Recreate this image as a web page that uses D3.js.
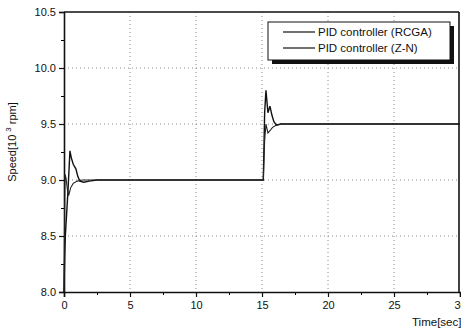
<!DOCTYPE html>
<html>
<head>
<meta charset="utf-8">
<script src="https://cdn.jsdelivr.net/npm/d3@7"></script>
<style>
  body { margin: 0; background: #fff; overflow: hidden; }
  svg { display: block; font-family: "Liberation Sans", Arial, sans-serif; }
</style>
</head>
<body>
<div id="chart"></div>
<script>
// time [s] and speed [10^3 rpm]
const rcgaTime = [0, 0.04, 0.08, 0.15, 0.25, 0.35, 0.5, 0.7, 1.0, 1.4, 2, 15, 15.1, 15.2, 15.3, 15.45, 15.6, 15.8, 16.1, 16.5, 17, 30];
const rcgaSpeed = [8.0, 8.6, 9.05, 9.02, 8.92, 8.86, 8.93, 8.97, 8.99, 9.0, 9.0, 9.0, 9.0, 9.35, 9.5, 9.42, 9.44, 9.47, 9.49, 9.5, 9.5, 9.5];

const znTime = [0, 0.05, 0.1, 0.3, 0.45, 0.55, 0.7, 0.9, 1.05, 1.2, 1.5, 1.9, 2.5, 15, 15.1, 15.2, 15.3, 15.45, 15.6, 15.75, 15.9, 16.1, 16.4, 30];
const znSpeed = [8.0, 8.3, 8.5, 8.9, 9.26, 9.2, 9.14, 9.1, 9.03, 8.99, 8.98, 8.99, 9.0, 9.0, 9.0, 9.6, 9.8, 9.6, 9.66, 9.58, 9.52, 9.49, 9.5, 9.5];

const xTicks = [0, 5, 10, 15, 20, 25, 30];
const yTicks = [8.0, 8.5, 9.0, 9.5, 10.0, 10.5];
const legendLabels = ['PID controller (RCGA)', 'PID controller (Z-N)'];

const W = 461, H = 331,
    margin = { top: 12, right: 2, bottom: 39, left: 64 },
    width = W - margin.left - margin.right,
    height = H - margin.top - margin.bottom;

const svg = d3.select('#chart')
    .append('svg')
        .attr('width', W)
        .attr('height', H)
    .append('g')
        .attr('transform', `translate(${margin.left}, ${margin.top})`);

const x = d3.scaleLinear().domain([0, 30]).range([0, 396]);
const y = d3.scaleLinear().domain([8, 10.5]).range([height, 0]);

// dotted grid
svg.append('g')
    .selectAll('line')
    .data(xTicks.slice(1, -1))
    .join('line')
        .attr('x1', d => x(d)).attr('x2', d => x(d))
        .attr('y1', 0).attr('y2', height)
        .attr('stroke', '#888')
        .attr('stroke-dasharray', '1,3');

svg.append('g')
    .selectAll('line')
    .data(yTicks.slice(1, -1))
    .join('line')
        .attr('x1', 0).attr('x2', width)
        .attr('y1', d => y(d)).attr('y2', d => y(d))
        .attr('stroke', '#888')
        .attr('stroke-dasharray', '1,3');

// minor ticks
svg.append('g')
    .attr('transform', `translate(0, ${height})`)
    .call(d3.axisBottom(x).tickValues(d3.range(2.5, 30, 5)).tickSize(3).tickFormat(''))
    .call(g => g.select('.domain').remove());

svg.append('g')
    .call(d3.axisLeft(y).tickValues(d3.range(8.25, 10.5, 0.5)).tickSize(3).tickFormat(''))
    .call(g => g.select('.domain').remove());

// major axes
const xAxis = svg.append('g')
    .attr('transform', `translate(0, ${height})`)
    .call(d3.axisBottom(x).tickValues(xTicks).tickSize(5).tickPadding(4).tickFormat(d3.format('d')));

const yAxis = svg.append('g')
    .call(d3.axisLeft(y).tickValues(yTicks).tickSize(5).tickPadding(3).tickFormat(d3.format('.1f')));

[xAxis, yAxis].forEach(g => {
    g.selectAll('text').attr('font-size', 11).attr('fill', '#111')
        .attr('font-family', '"Liberation Sans", Arial, sans-serif');
    g.selectAll('line').attr('stroke', '#111').attr('stroke-width', 1.2);
    g.select('.domain').attr('stroke', '#111').attr('stroke-width', 1.6);
});

// frame top / right
svg.append('line')
    .attr('x1', 0).attr('x2', width).attr('y1', 0).attr('y2', 0)
    .attr('stroke', '#111').attr('stroke-width', 1.6);
svg.append('line')
    .attr('x1', x(30) - 1).attr('x2', x(30) - 1).attr('y1', 0).attr('y2', height)
    .attr('stroke', '#111').attr('stroke-width', 1.6);

// curves
const line = d3.line()
    .x(d => x(d[0]))
    .y(d => y(d[1]));

svg.append('path')
    .datum(d3.zip(znTime, znSpeed))
    .attr('fill', 'none')
    .attr('stroke', '#111')
    .attr('stroke-width', 1.4)
    .attr('d', line);

svg.append('path')
    .datum(d3.zip(rcgaTime, rcgaSpeed))
    .attr('fill', 'none')
    .attr('stroke', '#222')
    .attr('stroke-width', 1.1)
    .attr('d', line);

// legend
const legend = svg.append('g')
    .attr('transform', `translate(${268 - margin.left}, ${22 - margin.top})`);

legend.append('rect')
    .attr('x', 4).attr('y', 4)
    .attr('width', 182).attr('height', 38)
    .attr('fill', '#111');
legend.append('rect')
    .attr('width', 182).attr('height', 38)
    .attr('fill', '#fff')
    .attr('stroke', '#111')
    .attr('stroke-width', 1);

legendLabels.forEach((label, i) => {
    const ly = 10 + i * 16;
    legend.append('line')
        .attr('x1', 15).attr('x2', 47)
        .attr('y1', ly).attr('y2', ly)
        .attr('stroke', '#111')
        .attr('stroke-width', 1.2);
    legend.append('text')
        .attr('x', 50).attr('y', ly + 4)
        .attr('font-size', 11.5)
        .attr('fill', '#111')
        .text(label);
});

// axis titles
svg.append('text')
    .attr('x', 412 - margin.left)
    .attr('y', 326 - margin.top)
    .attr('font-size', 11.5)
    .attr('fill', '#111')
    .text('Time[sec]');

const yTitle = svg.append('text')
    .attr('transform', `translate(${16 - margin.left}, ${142 - margin.top}) rotate(-90)`)
    .attr('text-anchor', 'middle')
    .attr('font-size', 11)
    .attr('fill', '#111');
yTitle.append('tspan').text('Speed[10 ');
yTitle.append('tspan').attr('font-size', 8).attr('dy', -5).text('3');
yTitle.append('tspan').attr('dy', 5).text(' rpm]');
</script>
</body>
</html>
